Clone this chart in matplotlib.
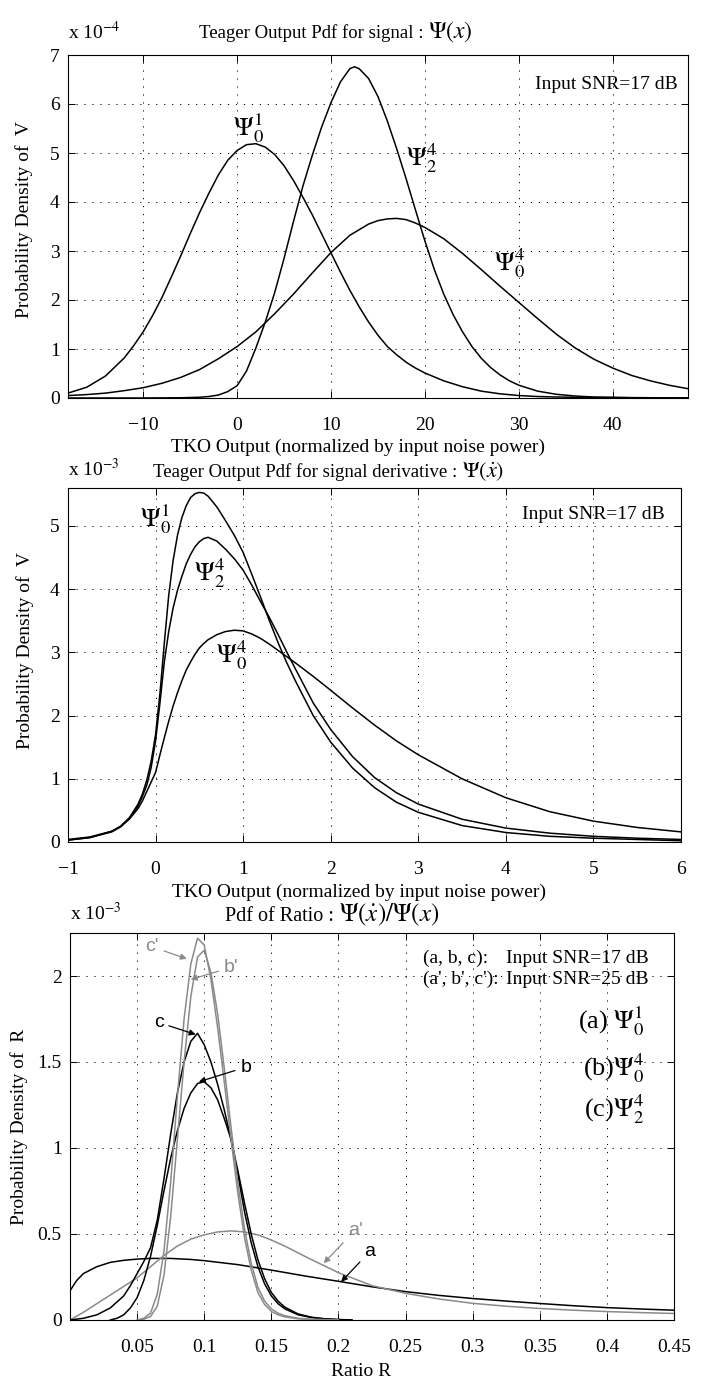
import matplotlib
matplotlib.use("Agg")
import matplotlib.pyplot as plt

plt.rcParams['font.family'] = ['Liberation Serif', 'DejaVu Serif']
plt.rcParams['mathtext.fontset'] = 'stix'

# ---- panel 1: pdf of TKO output for the signal (units of 1e-4)
x_s01 = [-18, -16, -14, -12, -11, -10, -9, -8, -7, -6, -5, -4, -3, -2, -1, 0, 1, 2, 3, 4,
         5, 6, 7, 8, 9, 10, 11, 12, 13, 14, 15, 16, 17, 18, 19, 20, 22, 24, 26, 28, 30,
         32, 34, 38, 42, 48]
y_s01 = [0.10, 0.22, 0.45, 0.82, 1.07, 1.35, 1.68, 2.05, 2.47, 2.90, 3.35, 3.78, 4.18, 4.55,
         4.85, 5.05, 5.17, 5.19, 5.12, 4.97, 4.74, 4.44, 4.10, 3.74, 3.35, 2.96, 2.57, 2.20,
         1.86, 1.55, 1.28, 1.05, 0.88, 0.73, 0.61, 0.51, 0.35, 0.23, 0.14, 0.085, 0.05,
         0.03, 0.02, 0.01, 0.005, 0.0]
x_s24 = [-18, -10, -6, -4, -3, -2, -1, 0, 1, 2, 3, 4, 5, 6, 7, 8, 9, 10, 11, 12, 12.5, 13,
         14, 15, 16, 17, 18, 19, 20, 21, 22, 23, 24, 25, 26, 27, 28, 29, 30, 32, 34, 36,
         38, 42, 48]
y_s24 = [0.0, 0.0, 0.005, 0.015, 0.03, 0.06, 0.13, 0.25, 0.55, 1.02, 1.55, 2.15, 2.85, 3.6,
         4.32, 4.95, 5.53, 6.03, 6.45, 6.72, 6.76, 6.72, 6.52, 6.15, 5.65, 5.08, 4.47, 3.83,
         3.2, 2.62, 2.12, 1.7, 1.35, 1.05, 0.81, 0.62, 0.47, 0.35, 0.26, 0.14, 0.075, 0.04,
         0.02, 0.008, 0.0]
x_s04 = [-18, -16, -14, -12, -10, -8, -6, -4, -2, 0, 2, 4, 6, 8, 10, 12, 14, 15, 16, 17,
         18, 19, 20, 22, 24, 26, 28, 30, 32, 34, 36, 38, 40, 42, 44, 46, 48]
y_s04 = [0.05, 0.07, 0.10, 0.15, 0.21, 0.30, 0.42, 0.58, 0.80, 1.05, 1.35, 1.72, 2.12, 2.55,
         2.97, 3.32, 3.55, 3.62, 3.655, 3.665, 3.64, 3.57, 3.48, 3.25, 2.95, 2.62, 2.28,
         1.95, 1.62, 1.30, 1.02, 0.79, 0.61, 0.46, 0.35, 0.26, 0.19]

# ---- panel 2: pdf of TKO output for the signal derivative (units of 1e-3)
x_d = [-1, -0.75, -0.5, -0.4, -0.3, -0.2, -0.15, -0.1, -0.05, 0,
       0.05, 0.1, 0.15, 0.2, 0.25, 0.3, 0.35, 0.4, 0.45, 0.5,
       0.55, 0.6, 0.7, 0.8, 0.9, 1.0, 1.1, 1.2, 1.3, 1.4,
       1.5, 1.6, 1.8, 2.0, 2.25, 2.5, 2.75, 3, 3.5, 4,
       4.5, 5, 5.5, 6]
y_d01 = [0.03, 0.07, 0.16, 0.24, 0.38, 0.60, 0.76, 0.98, 1.28, 1.70,
         2.35, 3.15, 3.9, 4.45, 4.85, 5.13, 5.32, 5.45, 5.51, 5.53,
         5.52, 5.47, 5.3, 5.08, 4.85, 4.58, 4.23, 3.87, 3.5, 3.15,
         2.83, 2.54, 2.0, 1.58, 1.17, 0.86, 0.63, 0.47, 0.26, 0.15,
         0.09, 0.06, 0.04, 0.02]
y_d24 = [0.03, 0.07, 0.17, 0.25, 0.38, 0.57, 0.72, 0.9, 1.18, 1.6,
         2.2, 2.85, 3.33, 3.7, 3.98, 4.2, 4.4, 4.55, 4.67, 4.75,
         4.8, 4.82, 4.76, 4.63, 4.48, 4.3, 4.06, 3.8, 3.55, 3.28,
         3.0, 2.73, 2.2, 1.78, 1.35, 1.02, 0.78, 0.6, 0.36, 0.22,
         0.14, 0.09, 0.06, 0.04]
y_d04 = [0.04, 0.08, 0.17, 0.24, 0.36, 0.53, 0.65, 0.8, 0.95, 1.1,
         1.38, 1.65, 1.91, 2.15, 2.36, 2.55, 2.72, 2.85, 2.97, 3.07,
         3.14, 3.2, 3.28, 3.33, 3.35, 3.34, 3.29, 3.22, 3.13, 3.03,
         2.93, 2.83, 2.62, 2.4, 2.12, 1.85, 1.6, 1.38, 1.0, 0.7,
         0.48, 0.33, 0.23, 0.16]

# ---- panel 3: pdf of the ratio R (units of 1e-3)
x_a = [0, 0.005, 0.01, 0.02, 0.03, 0.04, 0.05, 0.06, 0.075, 0.09, 0.1, 0.125, 0.15, 0.175,
       0.2, 0.225, 0.25, 0.275, 0.3, 0.325, 0.35, 0.375, 0.4, 0.425, 0.45]
y_a = [0.17, 0.23, 0.27, 0.31, 0.335, 0.347, 0.354, 0.358, 0.358, 0.352, 0.345, 0.322, 0.29,
       0.256, 0.225, 0.193, 0.165, 0.143, 0.125, 0.11, 0.096, 0.083, 0.072, 0.064, 0.057]
x_a2 = [0, 0.01, 0.02, 0.03, 0.04, 0.05, 0.06, 0.07, 0.08, 0.09, 0.1, 0.11, 0.12, 0.13,
        0.14, 0.15, 0.16, 0.175, 0.2, 0.225, 0.25, 0.275, 0.3, 0.325, 0.35, 0.375, 0.4,
        0.425, 0.45]
y_a2 = [0.0, 0.045, 0.095, 0.145, 0.195, 0.245, 0.31, 0.375, 0.43, 0.47, 0.495, 0.512, 0.518,
        0.512, 0.495, 0.465, 0.43, 0.37, 0.275, 0.2, 0.155, 0.122, 0.097, 0.08, 0.067,
        0.057, 0.049, 0.043, 0.038]
x_b = [0.03, 0.035, 0.04, 0.045, 0.05, 0.055, 0.06, 0.065, 0.07, 0.075, 0.08, 0.085, 0.09,
       0.095, 0.1, 0.105, 0.11, 0.115, 0.12, 0.125, 0.13, 0.135, 0.14, 0.145, 0.15, 0.155,
       0.16, 0.17, 0.18, 0.19, 0.2, 0.21]
y_b = [0.0, 0.01, 0.03, 0.07, 0.13, 0.23, 0.37, 0.55, 0.75, 0.94, 1.1, 1.23, 1.32, 1.375,
       1.385, 1.35, 1.28, 1.17, 1.05, 0.87, 0.68, 0.5, 0.35, 0.24, 0.16, 0.11, 0.075, 0.035,
       0.016, 0.007, 0.003, 0.0]
x_c = [0.0, 0.01, 0.02, 0.03, 0.04, 0.045, 0.05, 0.055, 0.06, 0.065, 0.07, 0.075, 0.08,
       0.085, 0.09, 0.095, 0.1, 0.105, 0.11, 0.115, 0.12, 0.125, 0.13, 0.135, 0.14, 0.145,
       0.15, 0.155, 0.16, 0.17, 0.18, 0.19, 0.2, 0.21]
y_c = [0.0, 0.01, 0.03, 0.07, 0.14, 0.2, 0.27, 0.34, 0.42, 0.58, 0.82, 1.08, 1.32, 1.5,
       1.62, 1.667, 1.6, 1.5, 1.37, 1.22, 1.05, 0.85, 0.63, 0.45, 0.31, 0.21, 0.14, 0.095,
       0.065, 0.03, 0.014, 0.006, 0.002, 0.0]
x_pk = [0.05, 0.055, 0.06, 0.065, 0.07, 0.075, 0.08, 0.085, 0.09, 0.095, 0.1, 0.105, 0.11,
        0.115, 0.12, 0.125, 0.13, 0.135, 0.14, 0.145, 0.15, 0.155, 0.16, 0.17, 0.18, 0.2]
y_b2 = [0.0, 0.005, 0.02, 0.08, 0.26, 0.6, 1.05, 1.5, 1.88, 2.11, 2.15, 2.02, 1.78, 1.46,
        1.12, 0.8, 0.53, 0.33, 0.19, 0.11, 0.065, 0.04, 0.025, 0.01, 0.004, 0.0]
y_c2 = [0.0, 0.01, 0.04, 0.15, 0.4, 0.8, 1.3, 1.75, 2.07, 2.22, 2.18, 1.98, 1.70, 1.38,
        1.05, 0.74, 0.48, 0.29, 0.16, 0.09, 0.05, 0.03, 0.018, 0.007, 0.003, 0.0]

GRAY = '#8a8a8a'
FS = 14

fig = plt.figure(figsize=(7.22, 13.81), dpi=100)
W, H = 722, 1381


def make_axes(left, top, right, bottom):
    return fig.add_axes([left / W, 1 - bottom / H, (right - left) / W, (bottom - top) / H])


def style(ax):
    ax.tick_params(direction='in', top=True, right=True, length=5, width=0.7,
                   labelsize=FS)
    ax.tick_params(axis='x', pad=14)
    ax.tick_params(axis='y', pad=6)
    for s in ax.spines.values():
        s.set_linewidth(0.8)
    ax.grid(True, color='k', linestyle=(0, (1.2, 7)), linewidth=0.7)
    ax.set_axisbelow(True)


titles = []


def title(ax, x, y, txt, math, fs_t, fs_m):
    # plain part and math part at different sizes, like the original
    t = ax.text(x, y, txt, transform=ax.transAxes, fontsize=fs_t, ha='left', va='baseline')
    titles.append((ax, t, y, math, fs_m))


def scale_label(ax, y, power):
    ax.text(0.0, y, 'x 10$^{%d}$' % power, transform=ax.transAxes, fontsize=FS,
            ha='left', va='baseline')


ax1 = make_axes(68, 55, 688, 398)
ax2 = make_axes(68, 488, 681, 842)
ax3 = make_axes(70, 933, 674, 1320)

# panel 1
for xs, ys in [(x_s01, y_s01), (x_s24, y_s24), (x_s04, y_s04)]:
    ax1.plot(xs, ys, color='k', lw=1.1)
ax1.set_xlim(-18, 48)
ax1.set_ylim(0, 7)
ax1.set_xticks([-10, 0, 10, 20, 30, 40])
ax1.set_yticks(range(8))
style(ax1)
ax1.text(1.2, 5.5, r'$\Psi_0^1$', fontsize=19, ha='center', va='center')
ax1.text(19.6, 4.9, r'$\Psi_2^4$', fontsize=19, ha='center', va='center')
ax1.text(29.0, 2.75, r'$\Psi_0^4$', fontsize=19, ha='center', va='center')
ax1.text(46.9, 6.4, 'Input SNR=17 dB', fontsize=FS, ha='right', va='center')
scale_label(ax1, 1.047, -4)
title(ax1, 0.211, 1.05, 'Teager Output Pdf for signal : ', r'$\Psi(x)$', 13.5, 17)
ax1.set_xlabel('TKO Output (normalized by input noise power)', fontsize=FS)
ax1.xaxis.set_label_coords(0.468, -0.12)
ax1.set_ylabel('Probability Density of  V', fontsize=FS)
ax1.yaxis.set_label_coords(-0.056, 0.52)

# panel 2
for ys in [y_d01, y_d24, y_d04]:
    ax2.plot(x_d, ys, color='k', lw=1.1)
ax2.set_xlim(-1, 6)
ax2.set_ylim(0, 5.6)
ax2.set_xticks(range(-1, 7))
ax2.set_yticks(range(6))
style(ax2)
ax2.text(0.0, 5.1, r'$\Psi_0^1$', fontsize=19, ha='center', va='center')
ax2.text(0.61, 4.25, r'$\Psi_2^4$', fontsize=19, ha='center', va='center')
ax2.text(0.87, 2.95, r'$\Psi_0^4$', fontsize=19, ha='center', va='center')
ax2.text(5.82, 5.18, 'Input SNR=17 dB', fontsize=FS, ha='right', va='center')
scale_label(ax2, 1.034, -3)
title(ax2, 0.139, 1.031, 'Teager Output Pdf for signal derivative : ', r'$\Psi(\dot{x})$',
      13.5, 16)
ax2.set_xlabel('TKO Output (normalized by input noise power)', fontsize=FS)
ax2.xaxis.set_label_coords(0.475, -0.117)
ax2.set_ylabel('Probability Density of  V', fontsize=FS)
ax2.yaxis.set_label_coords(-0.056, 0.54)

# panel 3
ax3.plot(x_a, y_a, color='k', lw=1.1)
ax3.plot(x_a2, y_a2, color=GRAY, lw=1.1)
ax3.plot(x_b, y_b, color='k', lw=1.1)
ax3.plot(x_c, y_c, color='k', lw=1.1)
ax3.plot(x_pk, y_b2, color=GRAY, lw=1.1)
ax3.plot(x_pk, y_c2, color=GRAY, lw=1.1)
ax3.set_xlim(0, 0.45)
ax3.set_ylim(0, 2.25)
ax3.set_xticks([0.05, 0.1, 0.15, 0.2, 0.25, 0.3, 0.35, 0.4, 0.45])
ax3.set_xticklabels(['0.05', '0.1', '0.15', '0.2', '0.25', '0.3', '0.35', '0.4', '0.45'])
ax3.set_yticks([0, 0.5, 1, 1.5, 2])
ax3.set_yticklabels(['0', '0.5', '1', '1.5', '2'])
style(ax3)

arrows = [("c'", (0.061, 2.17), (0.087, 2.10), GRAY),
          ("b'", (0.12, 2.05), (0.090, 1.98), GRAY),
          ("c", (0.066, 1.73), (0.0936, 1.66), 'k'),
          ("b", (0.131, 1.47), (0.096, 1.385), 'k'),
          ("a'", (0.2125, 0.523), (0.189, 0.33), GRAY),
          ("a", (0.2236, 0.40), (0.202, 0.222), 'k')]
for lab, xy_text, xy_tip, col in arrows:
    ax3.annotate(lab, xy=xy_tip, xytext=xy_text, color=col, fontsize=FS,
                 family=['Liberation Sans', 'DejaVu Sans'], ha='center', va='center',
                 arrowprops=dict(arrowstyle='-|>', color=col, lw=0.9,
                                 mutation_scale=9, shrinkA=2, shrinkB=0))

ax3.text(0.263, 2.10, '(a, b, c):', fontsize=FS, ha='left', va='center')
ax3.text(0.325, 2.10, 'Input SNR=17 dB', fontsize=FS, ha='left', va='center')
ax3.text(0.263, 1.98, "(a', b', c'):", fontsize=FS, ha='left', va='center')
ax3.text(0.325, 1.98, 'Input SNR=25 dB', fontsize=FS, ha='left', va='center')
ax3.text(0.428, 1.735, r'(a) $\Psi_0^1$', fontsize=19, ha='right', va='center')
ax3.text(0.428, 1.465, r'(b)$\Psi_0^4$', fontsize=19, ha='right', va='center')
ax3.text(0.428, 1.225, r'(c)$\Psi_2^4$', fontsize=19, ha='right', va='center')
scale_label(ax3, 1.034, -3)
title(ax3, 0.257, 1.031, 'Pdf of Ratio : ', r'$\Psi(\dot{x})/\Psi(x)$', 14.5, 18)
ax3.set_xlabel('Ratio R', fontsize=FS)
ax3.xaxis.set_label_coords(0.482, -0.11)
ax3.set_ylabel('Probability Density of  R', fontsize=FS)
ax3.yaxis.set_label_coords(-0.07, 0.5)

# put the math part of each title right after its text part, on the same baseline
fig.canvas.draw()
renderer = fig.canvas.get_renderer()
for ax, t, y, math, fs_m in titles:
    x1 = t.get_window_extent(renderer).x1
    xa = ax.transAxes.inverted().transform((x1, 0))[0]
    ax.text(xa, y, math, transform=ax.transAxes, fontsize=fs_m, ha='left', va='baseline')

fig.savefig('out.png', dpi=100)
